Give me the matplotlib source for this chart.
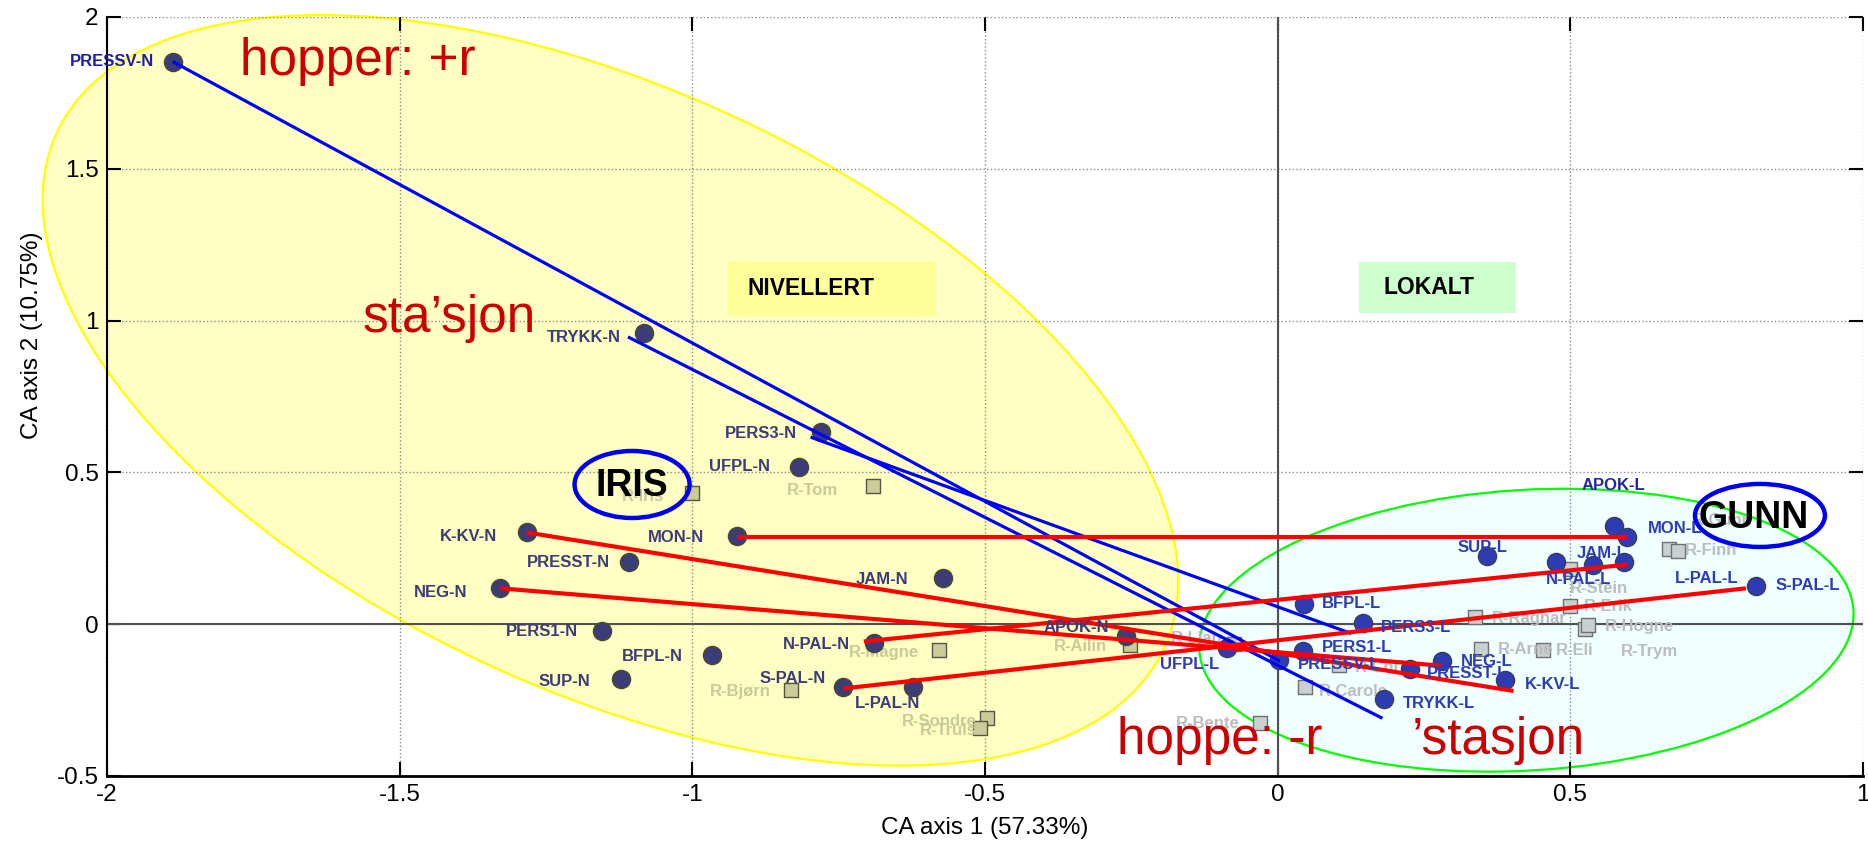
import numpy as np
import matplotlib
matplotlib.use('Agg')
import matplotlib.pyplot as plt
from matplotlib.patches import Ellipse, Rectangle
import matplotlib.font_manager as fm

matplotlib.rcParams['font.family'] = ['Liberation Sans', 'DejaVu Sans']
matplotlib.rcParams['axes.unicode_minus'] = False

# narrow font for the point labels, if it is installed
available = {f.name for f in fm.fontManager.ttflist}
NARROW = 'Liberation Sans Narrow' if 'Liberation Sans Narrow' in available else 'Liberation Sans'
LBL_SIZE = 14.5 if NARROW == 'Liberation Sans Narrow' else 12

# ========== data ==========
# row points, nivellert (N)
n_labels = ['PRESSV-N', 'TRYKK-N', 'PERS3-N', 'UFPL-N', 'MON-N', 'K-KV-N', 'PRESST-N', 'NEG-N',
            'JAM-N', 'PERS1-N', 'BFPL-N', 'SUP-N', 'N-PAL-N', 'S-PAL-N', 'L-PAL-N', 'APOK-N']
n_x = [-1.888, -1.083, -0.780, -0.817, -0.923, -1.283, -1.108, -1.328,
       -0.572, -1.155, -0.967, -1.122, -0.690, -0.743, -0.623, -0.259]
n_y = [1.853, 0.958, 0.634, 0.518, 0.289, 0.302, 0.206, 0.118,
       0.153, -0.024, -0.102, -0.181, -0.063, -0.208, -0.208, -0.038]

# row points, lokalt (L)
l_labels = ['APOK-L', 'MON-L', 'SUP-L', 'JAM-L', 'N-PAL-L', 'L-PAL-L', 'S-PAL-L', 'BFPL-L',
            'PERS3-L', 'PERS1-L', 'UFPL-L', 'PRESSV-L', 'PRESST-L', 'NEG-L', 'K-KV-L', 'TRYKK-L']
l_x = [0.574, 0.597, 0.358, 0.475, 0.538, 0.591, 0.817, 0.045,
       0.145, 0.043, -0.086, 0.002, 0.226, 0.281, 0.389, 0.181]
l_y = [0.322, 0.287, 0.224, 0.204, 0.196, 0.204, 0.126, 0.067,
       0.004, -0.090, -0.079, -0.118, -0.149, -0.122, -0.185, -0.247]

# column points (speakers) in the N group and in the L group
rn_labels = ['R-Iris', 'R-Tom', 'R-Magne', 'R-Ailin', 'R-Bjørn', 'R-Sondre', 'R-Truls']
rn_x = [-1.0, -0.692, -0.578, -0.252, -0.831, -0.497, -0.509]
rn_y = [0.433, 0.455, -0.086, -0.068, -0.216, -0.310, -0.342]

rl_labels = ['R-Lian', 'R-Carole', 'R-Bente', 'R-Chris', 'R-Ragnar', 'R-Arne', 'R-Eli',
             'R-Trym', 'R-Hogne', 'R-Erik', 'R-Stein', 'R-Finn', 'R-Gunn']
rl_x = [-0.075, 0.047, -0.031, 0.104, 0.338, 0.348, 0.454, 0.525, 0.530, 0.499, 0.499, 0.668, 0.684]
rl_y = [-0.067, -0.208, -0.326, -0.133, 0.024, -0.082, -0.086, -0.016, -0.004, 0.059, 0.181, 0.247, 0.240]

# lines between the two versions of a word: blue = hopper/stasjon, red = the others
blue_x0 = [-1.888, -1.110, -0.798]
blue_y0 = [1.853, 0.946, 0.616]
blue_x1 = [0.004, 0.179, 0.126]
blue_y1 = [-0.122, -0.310, -0.031]

red_x0 = [-0.923, -1.283, -1.328, -0.707, -0.743]
red_y0 = [0.287, 0.302, 0.118, -0.057, -0.212]
red_x1 = [0.597, 0.403, 0.281, 0.597, 0.800]
red_y1 = [0.287, -0.220, -0.137, 0.196, 0.118]

# ========== label offsets (points) ==========
n_off = [(-13, 0, 'right'), (-16.5, -3, 'right'), (-17, -1, 'right'), (-21, 0, 'right'),
         (-24, -1, 'right'), (-21, -3, 'right'), (-14, -1, 'right'), (-24, -3, 'right'),
         (-25, -1.5, 'right'), (-17, 0, 'right'), (-21, -1, 'right'), (-22, -1.5, 'right'),
         (-17, -1, 'right'), (-12, 6, 'right'), (-18, -11.5, 'center'), (-12, 6, 'right')]
l_off = [(0, 29.5, 'center'), (15, 6, 'left'), (-3.5, 6, 'center'), (15, 6, 'left'),
         (-10, -11, 'center'), (37, -12, 'left'), (14, 0, 'left'), (13, 0, 'left'),
         (13, -3, 'left'), (14, 3, 'left'), (-27, -11.5, 'center'), (14, -3.5, 'left'),
         (12, -3, 'left'), (13.5, 0, 'left'), (14, -3, 'left'), (14, -3, 'left')]
rn_off = [(-20, -3, 'right'), (-25, -3, 'right'), (-15, -1.5, 'right'), (-16.5, -1, 'right'),
          (-14.5, -1, 'right'), (-7, -2, 'right'), (-2, -2, 'right')]
rl_off = [(-8, 4, 'right'), (10, -3, 'left'), (-14, 0, 'right'), (12, -2, 'left'),
          (12, -1, 'left'), (12, 0, 'left'), (9, 0, 'left'), (26, -16, 'left'),
          (12, -1, 'left'), (10, 0, 'left'), (0, -14, 'left'), (12, -1, 'left'), (10, 22, 'left')]


def data_ellipse(cx, cy, hx, hy, s, **kw):
    """ellipse from half-extents along x/y and the x-y coupling term"""
    cov = np.array([[hx ** 2, s], [s, hy ** 2]])
    vals, vecs = np.linalg.eigh(cov)
    angle = np.degrees(np.arctan2(vecs[1, 1], vecs[0, 1]))
    return Ellipse((cx, cy), 2 * np.sqrt(vals[1]), 2 * np.sqrt(vals[0]), angle=angle, **kw)


fig = plt.figure(figsize=(18.68, 8.44), dpi=100)
ax = fig.add_axes([0.0573, 0.0806, 0.94, 0.8994])
ax.set_xlim(-2, 1)
ax.set_ylim(-0.5, 2)

# group ellipses (the yellow one runs out past the left axis)
ax.add_patch(data_ellipse(-1.14, 0.77, 0.97, 1.236, -0.61, clip_on=False,
                          facecolor='#ffffc4', edgecolor='#ffff00', lw=1.6, zorder=0.2))
ax.add_patch(data_ellipse(0.425, -0.02, 0.559, 0.466, 0.03,
                          facecolor='#f0ffff', edgecolor='#00ff00', lw=1.6, zorder=0.2))

ax.set_axisbelow(True)
ax.grid(True, color='#8a8a8a', linestyle=':', linewidth=1.0)
ax.axhline(0, color='#505050', lw=1.5, zorder=0.6)
ax.axvline(0, color='#505050', lw=1.5, zorder=0.6)

# group boxes
ax.add_patch(Rectangle((-0.939, 1.016), 0.355, 0.181, facecolor='#ffff99', edgecolor='none', zorder=1))
ax.text(-0.905, 1.106, 'NIVELLERT', fontsize=16.5, fontweight='bold', va='center', ha='left', zorder=1.1)
ax.add_patch(Rectangle((0.139, 1.026), 0.268, 0.167, facecolor='#ccffcc', edgecolor='none', zorder=1))
ax.text(0.180, 1.108, 'LOKALT', fontsize=16.5, fontweight='bold', va='center', ha='left', zorder=1.1)

# column points
ax.scatter(rn_x, rn_y, s=110, marker='s', c='#cccc99', edgecolors='#555544', linewidths=1, zorder=2)
ax.scatter(rl_x, rl_y, s=110, marker='s', c='#c8d0d0', edgecolors='#707070', linewidths=1, zorder=2)
for name, x, y, (dx, dy, ha) in zip(rn_labels, rn_x, rn_y, rn_off):
    ax.annotate(name, (x, y), xytext=(dx, dy), textcoords='offset points', ha=ha, va='center',
                fontsize=LBL_SIZE, fontweight='bold', color='#c9c99a', family=NARROW, zorder=2.1)
for name, x, y, (dx, dy, ha) in zip(rl_labels, rl_x, rl_y, rl_off):
    ax.annotate(name, (x, y), xytext=(dx, dy), textcoords='offset points', ha=ha, va='center',
                fontsize=LBL_SIZE, fontweight='bold', color='#bcbcbc', family=NARROW, zorder=2.1)

# row points
ax.scatter(n_x, n_y, s=170, c='#3b3d78', edgecolors='#4a4a2a', linewidths=1, zorder=3)
ax.scatter(l_x, l_y, s=170, c='#2e3cb4', edgecolors='#3a3a5a', linewidths=1, zorder=3)

# connecting lines
for x0, y0, x1, y1 in zip(blue_x0, blue_y0, blue_x1, blue_y1):
    ax.plot([x0, x1], [y0, y1], color='#0000ff', lw=2.3, solid_capstyle='butt', zorder=4)
for x0, y0, x1, y1 in zip(red_x0, red_y0, red_x1, red_y1):
    ax.plot([x0, x1], [y0, y1], color='#ff0000', lw=3.0, solid_capstyle='butt', zorder=4)

for name, x, y, (dx, dy, ha) in zip(n_labels, n_x, n_y, n_off):
    col = '#1e1e9e' if name == 'PRESSV-N' else '#3c3c78'
    ax.annotate(name, (x, y), xytext=(dx, dy), textcoords='offset points', ha=ha, va='center',
                fontsize=LBL_SIZE, fontweight='bold', color=col, family=NARROW, zorder=5)
for name, x, y, (dx, dy, ha) in zip(l_labels, l_x, l_y, l_off):
    col = '#1e28a0' if name == 'APOK-L' else '#2e3cb4'
    ax.annotate(name, (x, y), xytext=(dx, dy), textcoords='offset points', ha=ha, va='center',
                fontsize=LBL_SIZE, fontweight='bold', color=col, family=NARROW, zorder=5)

# speaker highlights
ax.add_patch(Ellipse((-1.103, 0.460), 0.1965, 0.2207, facecolor='none', edgecolor='#0000ee', lw=3.2, zorder=6))
ax.text(-1.103, 0.455, 'IRIS', fontsize=27, fontweight='bold', ha='center', va='center', zorder=6)
ax.add_patch(Ellipse((0.824, 0.358), 0.222, 0.2075, facecolor='none', edgecolor='#0000ee', lw=3.2, zorder=6))
ax.text(0.814, 0.350, 'GUNN', fontsize=27, fontweight='bold', ha='center', va='center', zorder=6)

# annotations
red = '#cc0000'
ax.text(-1.773, 1.81, 'hopper: +r', fontsize=37, color=red, ha='left', va='baseline', zorder=6)
ax.text(-1.563, 0.963, 'sta\u2019sjon', fontsize=37, color=red, ha='left', va='baseline', zorder=6)
ax.text(-0.274, -0.427, 'hoppe: -r', fontsize=37, color=red, ha='left', va='baseline', zorder=6)
ax.text(0.230, -0.427, '\u2019stasjon', fontsize=37, color=red, ha='left', va='baseline', zorder=6)

ax.set_xticks([-2, -1.5, -1, -0.5, 0, 0.5, 1])
ax.set_xticklabels(['-2', '-1.5', '-1', '-0.5', '0', '0.5', '1'])
ax.set_yticks([-0.5, 0, 0.5, 1, 1.5, 2])
ax.set_yticklabels(['-0.5', '0', '0.5', '1', '1.5', '2'])
ax.tick_params(direction='in', length=10, width=1.5, labelsize=17.5, pad=6,
               top=True, right=True, colors='black')
for side in ['top', 'right']:
    ax.spines[side].set_visible(False)
ax.spines['left'].set_linewidth(1.5)
ax.spines['bottom'].set_linewidth(2)

ax.set_xlabel('CA axis 1 (57.33%)', fontsize=17.5, labelpad=8)
ax.set_ylabel('CA axis 2 (10.75%)', fontsize=17.5, va='center')
ax.yaxis.set_label_coords(-0.0427, 0.581)

fig.savefig('out.png', dpi=100)
